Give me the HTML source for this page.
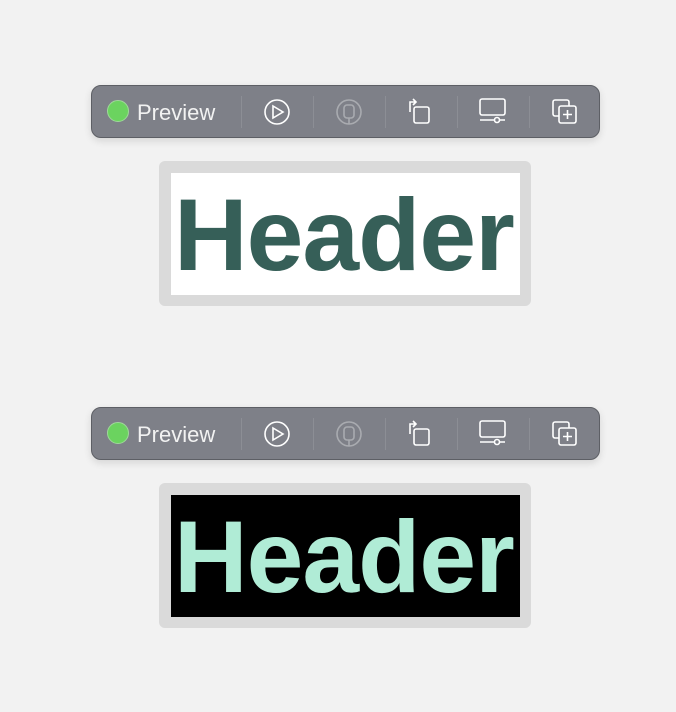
<!DOCTYPE html>
<html><head><style>
body{margin:0;width:676px;height:712px;background:#f2f2f2;position:relative;font-family:"Liberation Sans",sans-serif;overflow:hidden}
.tb{position:absolute;left:91px;width:507px;height:51px;background:#7e8088;border:1px solid #5d5f65;border-radius:10px;box-shadow:0 3px 8px rgba(0,0,0,0.12)}
.dot{position:absolute;left:15px;top:14px;width:20px;height:20px;border-radius:50%;background:#6bd35f;border:1px solid #9fd89a}
.lbl{position:absolute;left:45px;top:14px;font-size:22px;color:#f2f2f2}
.sep{position:absolute;top:10px;width:1px;height:32px;background:#8c8e95}
.tb svg{position:absolute;top:0;left:0}
.fr{position:absolute;left:159px;width:372px;height:145px;background:#dadada;border-radius:6px}
.in{position:absolute;left:12px;top:12px;width:349px;height:122px;overflow:hidden}
.in span{position:absolute;left:3px;top:7px;font-weight:bold;font-size:102px;line-height:110px;letter-spacing:-1px}
</style></head><body>
<div class="tb" style="top:85px">
<div class="dot"></div><div class="lbl">Preview</div>
<div class="sep" style="left:149px"></div><div class="sep" style="left:221px"></div><div class="sep" style="left:293px"></div><div class="sep" style="left:365px"></div><div class="sep" style="left:437px"></div>
<svg width="507" height="51" fill="none" stroke="#fff" stroke-width="1.6">
<circle cx="185" cy="26" r="12"/><path d="M181 20 L191 26 L181 32 Z"/>
<g stroke="#a9abb0"><circle cx="257" cy="26" r="12"/><rect x="252" y="19" width="10" height="13" rx="3"/><path d="M257 32 V38"/></g>
<rect x="322" y="21" width="15" height="16" rx="2"/><path d="M318 26 V16 h6 M321 13 l3 3 -3 3"/>
<rect x="388" y="13" width="25" height="16" rx="2"/><path d="M388 34 H413"/><circle cx="405" cy="34" r="2.5" fill="#7e8088"/>
<rect x="461" y="14" width="16" height="16" rx="2"/><rect x="467" y="20" width="17" height="17" rx="2" fill="#7e8088"/><path d="M475.5 24 V33 M471 28.5 H480"/>
</svg></div>
<div class="fr" style="top:161px"><div class="in" style="background:#fff"><span style="color:#365f58">Header</span></div></div>

<div class="tb" style="top:407px">
<div class="dot"></div><div class="lbl">Preview</div>
<div class="sep" style="left:149px"></div><div class="sep" style="left:221px"></div><div class="sep" style="left:293px"></div><div class="sep" style="left:365px"></div><div class="sep" style="left:437px"></div>
<svg width="507" height="51" fill="none" stroke="#fff" stroke-width="1.6">
<circle cx="185" cy="26" r="12"/><path d="M181 20 L191 26 L181 32 Z"/>
<g stroke="#a9abb0"><circle cx="257" cy="26" r="12"/><rect x="252" y="19" width="10" height="13" rx="3"/><path d="M257 32 V38"/></g>
<rect x="322" y="21" width="15" height="16" rx="2"/><path d="M318 26 V16 h6 M321 13 l3 3 -3 3"/>
<rect x="388" y="13" width="25" height="16" rx="2"/><path d="M388 34 H413"/><circle cx="405" cy="34" r="2.5" fill="#7e8088"/>
<rect x="461" y="14" width="16" height="16" rx="2"/><rect x="467" y="20" width="17" height="17" rx="2" fill="#7e8088"/><path d="M475.5 24 V33 M471 28.5 H480"/>
</svg></div>
<div class="fr" style="top:483px"><div class="in" style="background:#000"><span style="color:#b0ecd6">Header</span></div></div>
</body></html>
